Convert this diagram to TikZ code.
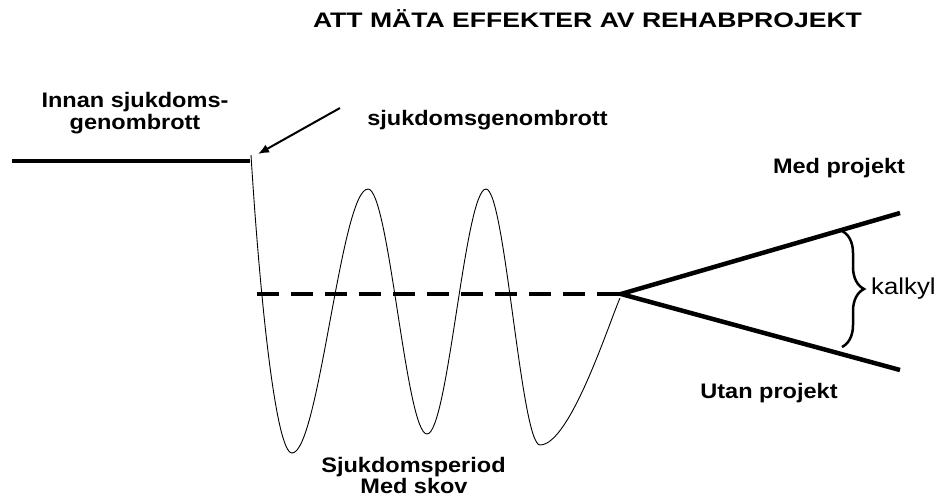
\documentclass[tikz,border=0pt]{standalone}
\usepackage{fontspec}
\setmainfont{Liberation Sans}[FakeStretch=1.12]
\newfontfamily\titlefont{Liberation Sans}[FakeStretch=1.265]
\usetikzlibrary{arrows.meta,decorations.pathreplacing}
\begin{document}
\begin{tikzpicture}[x=1pt,y=-1pt,
  lbl/.style={inner sep=0pt, anchor=base, font=\fontsize{21}{22}\selectfont\bfseries},
  plainlbl/.style={inner sep=0pt, anchor=base west, font=\fontsize{23}{24}\selectfont},
  heavy/.style={line width=4.3pt},
  wave/.style={line width=0.9pt},
  baseline dash/.style={line width=4pt, dash pattern=on 22pt off 12pt},
  pointer/.style={line width=2pt, -{Latex[length=11pt,width=9pt]}},
  bracestyle/.style={line width=2.5pt, decorate, decoration={brace, amplitude=22pt}}]
\useasboundingbox (0,0) rectangle (941,497);

% texts
\node[lbl] (title) at (587.5,28) {\titlefont\bfseries ATT MÄTA EFFEKTER AV REHABPROJEKT};
\node[lbl] (innan1) at (135,107.3) {Innan sjukdoms-};
\node[lbl] (innan2) at (135,129.3) {genombrott};
\node[lbl] (genom) at (487.5,125.7) {sjukdomsgenombrott};
\node[lbl] (med) at (839,173) {Med projekt};
\node[lbl] (utan) at (769,398) {Utan projekt};
\node[lbl] (sjuk1) at (413.5,472.5) {Sjukdomsperiod};
\node[lbl] (sjuk2) at (414,493.5) {Med skov};
\node[plainlbl] (kalkyl) at (871,294) {kalkyl};

% points
\coordinate (h0) at (12,161);
\coordinate (h1) at (250,161);
\coordinate (w0) at (251,155);
\coordinate (wend) at (620,298);
\coordinate (d0) at (257,294);
\coordinate (v) at (621,294);
\coordinate (vu) at (900,213);
\coordinate (vl) at (900,370);
\coordinate (a0) at (340,108);
\coordinate (a1) at (258,154);
\coordinate (b0) at (842,231);
\coordinate (b1) at (842,347);

% lines
\draw[heavy] (h0) -- (h1);
\draw[wave] (w0) .. controls (260,300) and (276,453) .. (292,453)
  .. controls (319,453) and (341,189) .. (368,189)
  .. controls (389,189) and (406,434) .. (427,434)
  .. controls (448,434) and (465,189) .. (486,189)
  .. controls (505,189) and (521,445) .. (540,445)
  .. controls (570,445) and (609,323) .. (wend);
\draw[baseline dash] (d0) -- (v);
\draw[heavy, line width=4.5pt, line join=miter] (vu) -- (v) -- (vl);
\draw[pointer] (a0) -- (a1);
\draw[bracestyle] (b0) -- (b1);
\end{tikzpicture}
\end{document}
